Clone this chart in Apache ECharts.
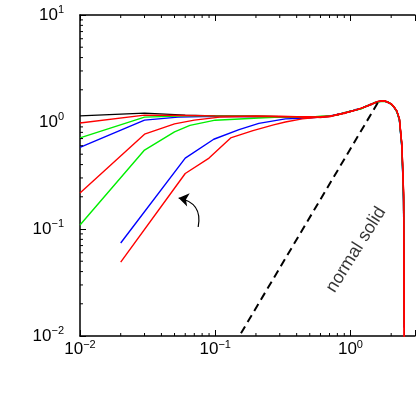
<!DOCTYPE html>
<html>
<head>
<meta charset="utf-8">
<script src="https://cdn.jsdelivr.net/npm/echarts@6/dist/echarts.min.js"></script>
<style>
html,body{margin:0;padding:0;background:#fff;}
#chart{width:418px;height:399px;}
</style>
</head>
<body>
<div id="chart"></div>
<script>
// ---- axis ranges / ticks ----
const X_MIN = 0.01, X_MAX = 3;
const Y_MIN = 0.01, Y_MAX = 10;
const xMinorTicks = [0.02,0.03,0.04,0.05,0.06,0.07,0.08,0.09,0.2,0.3,0.4,0.5,0.6,0.7,0.8,0.9,2];
const yMinorTicks = [0.02,0.03,0.04,0.05,0.06,0.07,0.08,0.09,0.2,0.3,0.4,0.5,0.6,0.7,0.8,0.9,2,3,4,5,6,7,8,9];

// ---- shared high-k abscissae ----
const tailK = [0.3,0.4,0.5,0.6,0.7,0.8,0.9,1.0,1.1,1.2,1.3,1.4,1.5,1.6,1.7,1.8,1.9,2.0,2.1,2.2,2.3,2.4,2.47,2.5];
const tailK6 = [0.6,0.7,0.8,0.9,1.0,1.1,1.2,1.3,1.4,1.5,1.6,1.7,1.8,1.9,2.0,2.1,2.2,2.3,2.4,2.47,2.5];

// ---- series values ----
const blackK = [0.01,0.03,0.06,0.1,0.2].concat(tailK);
const blackS = [1.14,1.21,1.16,1.14,1.13, 1.12,1.11,1.12,1.11,1.13,1.17,1.21,1.26,1.30,1.34,1.40,1.45,1.51,1.55,1.57,1.56,1.53,1.47,1.38,1.26,1.06,0.60,0.20,0.012];

const blueTopK = [0.01,0.03,0.053,0.1,0.2].concat(tailK);
const blueTopS = [0.58,1.04,1.11,1.13,1.12, 1.11,1.12,1.11,1.11,1.14,1.17,1.22,1.25,1.31,1.34,1.39,1.46,1.50,1.55,1.58,1.56,1.52,1.47,1.37,1.26,1.04,0.57,0.18,0.013];

const greenTopK = [0.01,0.03,0.06,0.1,0.2].concat(tailK);
const greenTopS = [0.71,1.11,1.14,1.14,1.13, 1.12,1.11,1.11,1.13,1.13,1.18,1.21,1.27,1.29,1.33,1.41,1.44,1.52,1.54,1.56,1.55,1.54,1.46,1.39,1.25,1.05,0.58,0.19,0.013];

const redTopK = [0.01,0.03,0.06,0.1,0.2].concat(tailK);
const redTopS = [0.98,1.16,1.15,1.14,1.13, 1.13,1.12,1.10,1.12,1.14,1.16,1.22,1.25,1.29,1.35,1.39,1.46,1.50,1.56,1.58,1.57,1.52,1.48,1.37,1.27,1.08,0.62,0.22,0.008];

const greenMidK = [0.01,0.03,0.05,0.065,0.1,0.21].concat(tailK);
const greenMidS = [0.109,0.547,0.81,0.93,1.04,1.09, 1.11,1.11,1.12,1.12,1.14,1.16,1.22,1.25,1.30,1.33,1.39,1.45,1.50,1.54,1.57,1.56,1.54,1.46,1.38,1.25,1.05,0.59,0.19,0.013];

const redMidK = [0.01,0.03,0.05,0.07,0.108,0.2].concat(tailK);
const redMidS = [0.217,0.77,0.96,1.04,1.11,1.13, 1.12,1.12,1.12,1.10,1.13,1.18,1.20,1.26,1.30,1.35,1.40,1.44,1.51,1.56,1.56,1.58,1.53,1.48,1.39,1.27,1.07,0.61,0.21,0.008];

const blueLowK = [0.02,0.06,0.0975,0.15,0.21,0.33,0.48].concat(tailK6);
const blueLowS = [0.074,0.46,0.69,0.85,0.97,1.07,1.09, 1.11,1.13,1.18,1.21,1.26,1.29,1.34,1.40,1.44,1.51,1.55,1.56,1.57,1.53,1.47,1.37,1.26,1.05,0.58,0.18,0.012];

const redLowK = [0.02,0.06,0.09,0.13,0.19,0.27,0.33,0.44,0.55].concat(tailK6);
const redLowS = [0.049,0.33,0.46,0.71,0.83,0.94,1.0,1.07,1.10, 1.11,1.12,1.17,1.21,1.25,1.30,1.34,1.39,1.45,1.50,1.55,1.57,1.57,1.52,1.48,1.38,1.27,1.07,0.62,0.22,0.008];

// ---- annotations (data coordinates) ----
const solidK = [0.155, 1.62];
const solidS = [0.0106, 1.57];
const solidLabelPos = [1.1, 0.064];
const arrowFrom = [0.0748, 0.1044];
const arrowTo = [0.0536, 0.195];

const zip = (a, b) => a.map((v, i) => [v, b[i]]);
const FONT = 'Liberation Sans, Arial, Helvetica, sans-serif';

function powLabel(v) {
  const e = Math.round(Math.log10(v));
  if (Math.abs(v - Math.pow(10, e)) / v > 1e-6) return '';
  return '{b|10}{s|' + (e < 0 ? '\u2212' + (-e) : e) + '}';
}
const rich = {
  b: { fontSize: 17, fontFamily: FONT, color: '#000' },
  s: { fontSize: 11, fontFamily: FONT, color: '#000', padding: [0, 0, 10, 0] }
};

const curve = (name, k, s, color) => ({
  name, type: 'line', data: zip(k, s), showSymbol: false, symbol: 'none',
  lineStyle: { color, width: 1.4 }, z: 3, animation: false
});

const chart = echarts.init(document.getElementById('chart'), null, { renderer: 'canvas' });
chart.setOption({
  animation: false,
  grid: { left: 80, top: 15, width: 343, height: 321 },
  xAxis: [{
    type: 'log', logBase: 10, min: X_MIN, max: X_MAX, position: 'bottom',
    axisLine: { lineStyle: { color: '#000', width: 1.5 } },
    axisTick: { inside: true, length: 6, lineStyle: { color: '#000', width: 1 } },
    axisLabel: { formatter: powLabel, rich, margin: 3 },
    splitLine: { show: false }
  }, {
    type: 'log', logBase: 10, min: X_MIN, max: X_MAX, position: 'top',
    axisLine: { lineStyle: { color: '#000', width: 1.5 } },
    axisTick: { inside: true, length: 6, lineStyle: { color: '#000', width: 1 } },
    axisLabel: { show: false },
    splitLine: { show: false }
  }],
  yAxis: [{
    type: 'log', logBase: 10, min: Y_MIN, max: Y_MAX,
    axisLine: { lineStyle: { color: '#000', width: 1.5 } },
    axisTick: { inside: true, length: 6, lineStyle: { color: '#000', width: 1 } },
    axisLabel: { formatter: powLabel, rich, margin: 16 },
    splitLine: { show: false }
  }],
  series: [
    curve('black', blackK, blackS, '#000000'),
    curve('blueTop', blueTopK, blueTopS, '#0000ff'),
    curve('greenTop', greenTopK, greenTopS, '#00ee00'),
    curve('blueLow', blueLowK, blueLowS, '#0000ff'),
    curve('greenMid', greenMidK, greenMidS, '#00ee00'),
    curve('redTop', redTopK, redTopS, '#ff0000'),
    curve('redMid', redMidK, redMidS, '#ff0000'),
    curve('redLow', redLowK, redLowS, '#ff0000'),
    {
      name: 'normal solid', type: 'line', data: zip(solidK, solidS), showSymbol: false, symbol: 'none',
      lineStyle: { color: '#000', width: 2, type: [8, 5] }, z: 4
    },
    {
      type: 'scatter', data: [solidLabelPos], symbolSize: 0, z: 5,
      label: { show: true, position: 'inside', formatter: 'normal solid', rotate: 58,
               fontSize: 18, fontFamily: FONT, color: '#000' }
    },
    {
      type: 'lines', coordinateSystem: 'cartesian2d', z: 5,
      data: [{ coords: [arrowFrom, arrowTo] }],
      symbol: ['none', 'arrow'], symbolSize: [0, 10],
      lineStyle: { color: '#000', width: 1.2, curveness: -0.5, opacity: 1 },
      effect: { show: false }
    },
    {
      type: 'custom', clip: false, silent: true, z: 6,
      data: xMinorTicks.map(v => [v, Y_MIN]),
      renderItem: (params, api) => {
        const x = api.value(0);
        const pb = api.coord([x, Y_MIN]);
        const pt = api.coord([x, Y_MAX]);
        return { type: 'group', children: [
          { type: 'line', shape: { x1: pb[0], y1: pb[1], x2: pb[0], y2: pb[1] - 3 }, style: { stroke: '#000', lineWidth: 1 } },
          { type: 'line', shape: { x1: pt[0], y1: pt[1], x2: pt[0], y2: pt[1] + 3 }, style: { stroke: '#000', lineWidth: 1 } }
        ]};
      }
    },
    {
      type: 'custom', clip: false, silent: true, z: 6,
      data: yMinorTicks.map(v => [X_MIN, v]),
      renderItem: (params, api) => {
        const y = api.value(1);
        const p = api.coord([X_MIN, y]);
        return { type: 'line', shape: { x1: p[0], y1: p[1], x2: p[0] + 3, y2: p[1] }, style: { stroke: '#000', lineWidth: 1 } };
      }
    }
  ]
});
</script>
</body>
</html>
